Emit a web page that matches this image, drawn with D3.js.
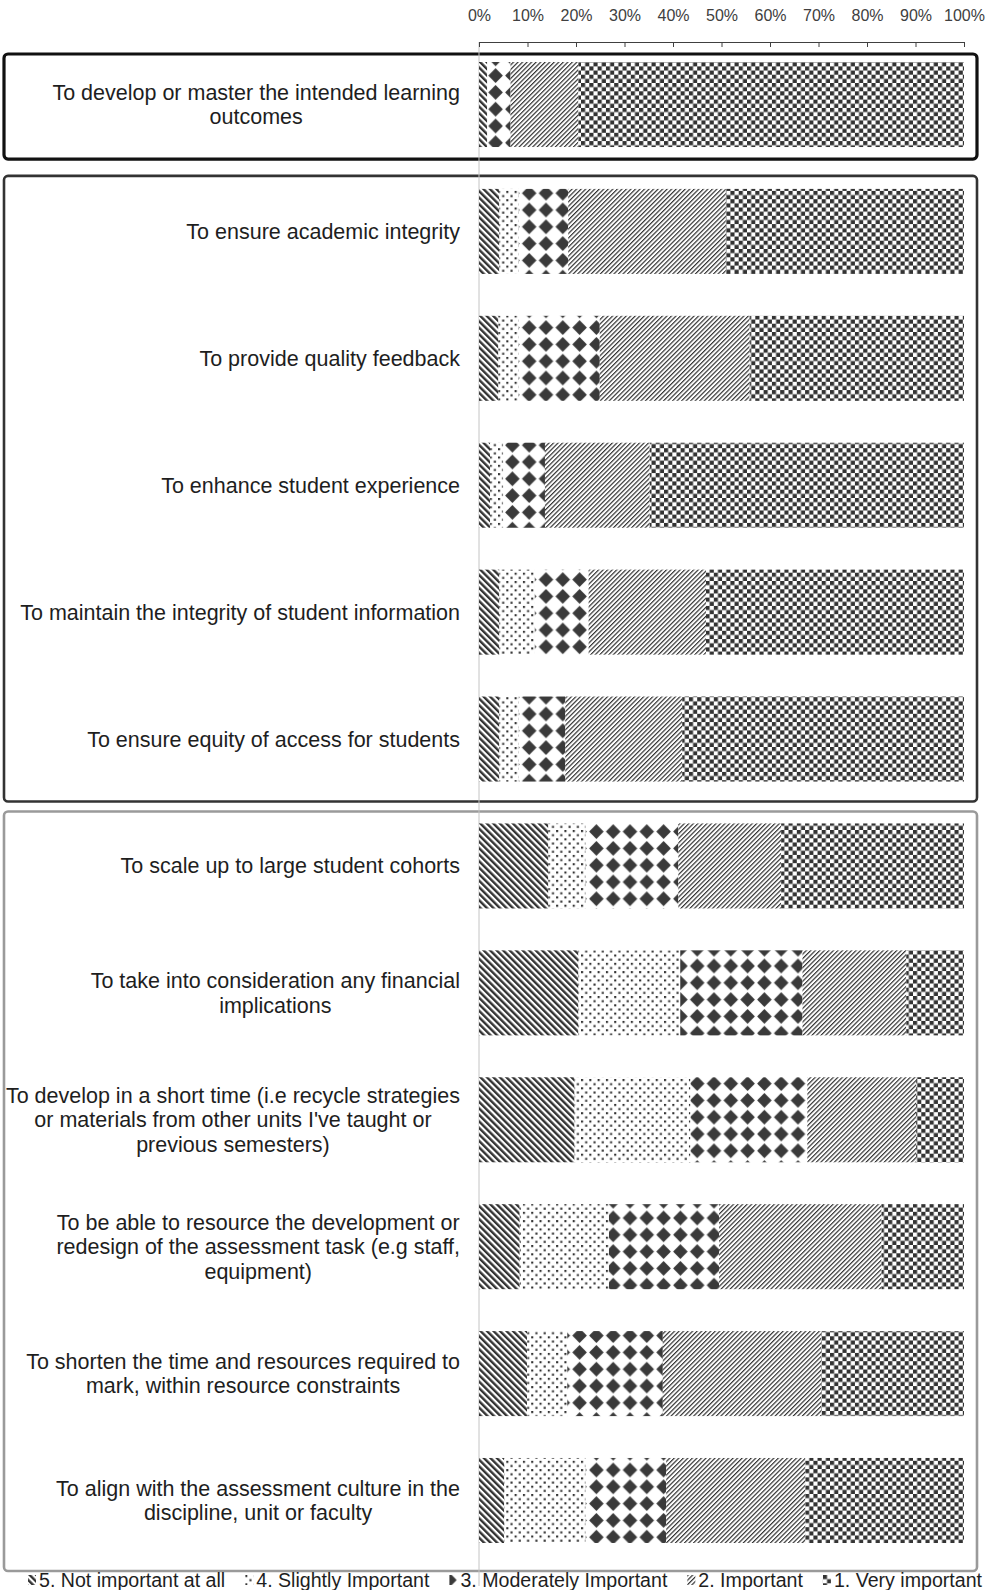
<!DOCTYPE html>
<html>
<head>
<meta charset="utf-8">
<script src="https://cdn.jsdelivr.net/npm/d3@7"></script>
<style>
  html, body { margin: 0; padding: 0; background: #fff; }
  svg { display: block; font-family: "Liberation Sans", Arial, Helvetica, sans-serif; }
</style>
</head>
<body>
<div id="chart"></div>
<script>
// Questions (each entry = the lines of its label)
const questions = [
  ["To develop or master the intended learning", "outcomes"],
  ["To ensure academic integrity"],
  ["To provide quality feedback"],
  ["To enhance student experience"],
  ["To maintain the integrity of student information"],
  ["To ensure equity of access for students"],
  ["To scale up to large student cohorts"],
  ["To take into consideration any financial", "implications"],
  ["To develop in a short time (i.e recycle strategies", "or materials from other units I've taught or", "previous semesters)"],
  ["To be able to resource the development or", "redesign of the assessment task (e.g staff,", "equipment)"],
  ["To shorten the time and resources required to", "mark, within resource constraints"],
  ["To align with the assessment culture in the", "discipline, unit or faculty"]
];

const levels = ["5. Not important at all", "4. Slightly Important", "3. Moderately Important", "2. Important", "1. Very important"];

// percent of respondents per level, one value per question
const notImportant = [1.7, 4.2, 4.0, 2.3, 4.2, 4.2, 14.3, 20.5, 19.7, 8.4, 9.9, 5.2];
const slightlyImportant = [0.0, 4.0, 4.2, 2.7, 7.3, 4.0, 7.7, 21.0, 23.9, 18.4, 8.3, 16.8];
const moderatelyImportant = [4.8, 10.2, 16.7, 8.6, 11.1, 9.6, 19.1, 25.2, 24.1, 22.7, 19.7, 16.6];
const important = [14.0, 32.5, 30.9, 21.6, 24.2, 24.1, 21.2, 21.4, 22.4, 33.5, 32.7, 28.7];
const veryImportant = [79.5, 49.1, 44.2, 64.8, 53.2, 58.1, 37.7, 11.9, 9.9, 17.0, 29.4, 32.7];

const tickValues = [0, 10, 20, 30, 40, 50, 60, 70, 80, 90, 100];

// grouping boxes drawn round the questions
const boxes = [
  { first: 0, last: 0, stroke: "#111", width: 3.2, padTop: 8, padBottom: 12 },
  { first: 1, last: 5, stroke: "#333", width: 2.6, padTop: 13, padBottom: 20 },
  { first: 6, last: 11, stroke: "#9a9a9a", width: 2.6, padTop: 12, padBottom: 28 }
];

const width = 991, height = 1590;
const ink = "#333";

const svg = d3.select("#chart").append("svg")
  .attr("width", width)
  .attr("height", height);

const x = d3.scaleLinear().domain([0, 100]).range([479, 964]);
const y = d3.scaleBand()
  .domain(d3.range(questions.length))
  .range([62, 1543])
  .paddingInner(0.33)
  .paddingOuter(0);

/* Patterns, one per level */
const defs = svg.append("defs");
const pattern = (id, w, h, transform) => {
  const p = defs.append("pattern")
    .attr("id", id)
    .attr("patternUnits", "userSpaceOnUse")
    .attr("width", w)
    .attr("height", h);
  if (transform) p.attr("patternTransform", transform);
  p.append("rect").attr("width", w).attr("height", h).attr("fill", "#fff");
  return p;
};

// 5: heavy downward diagonal
pattern("p5", 4.6, 4.6, "rotate(-45)")
  .append("rect").attr("width", 2.4).attr("height", 4.6).attr("fill", ink);

// 4: sparse dots
const p4 = pattern("p4", 8.3, 8.3);
p4.append("rect").attr("x", 0).attr("y", 0).attr("width", 2.1).attr("height", 2.1).attr("fill", ink);
p4.append("rect").attr("x", 4.15).attr("y", 4.15).attr("width", 2.1).attr("height", 2.1).attr("fill", ink);

// 3: solid diamonds
pattern("p3", 16.8, 16.8)
  .append("path")
  .attr("d", "M8.4,1.1 L15.7,8.4 L8.4,15.7 L1.1,8.4 Z")
  .attr("fill", "#3a3a3a");

// 2: light upward diagonal
pattern("p2", 3.2, 3.2, "rotate(45)")
  .append("rect").attr("width", 1.2).attr("height", 3.2).attr("fill", ink);

// 1: checkerboard
const p1 = pattern("p1", 8.3, 8.3);
p1.append("rect").attr("x", 0).attr("y", 0).attr("width", 4.15).attr("height", 4.15).attr("fill", ink);
p1.append("rect").attr("x", 4.15).attr("y", 4.15).attr("width", 4.15).attr("height", 4.15).attr("fill", ink);

const patternIds = ["p5", "p4", "p3", "p2", "p1"];

/* Boxes */
svg.append("g")
  .selectAll("rect")
  .data(boxes)
  .join("rect")
  .attr("x", 4)
  .attr("y", d => y(d.first) - d.padTop)
  .attr("width", 973)
  .attr("height", d => y(d.last) + y.bandwidth() + d.padBottom - (y(d.first) - d.padTop))
  .attr("rx", 4)
  .attr("fill", "none")
  .attr("stroke", d => d.stroke)
  .attr("stroke-width", d => d.width);

/* Vertical zero line */
svg.append("line")
  .attr("x1", x(0)).attr("x2", x(0))
  .attr("y1", 42).attr("y2", 1586)
  .attr("stroke", "#c4c4c4")
  .attr("stroke-width", 1);

/* Stacked bars */
const keys = ["s5", "s4", "s3", "s2", "s1"];
const rows = questions.map((q, i) => ({
  i: i,
  s5: notImportant[i],
  s4: slightlyImportant[i],
  s3: moderatelyImportant[i],
  s2: important[i],
  s1: veryImportant[i]
}));
const series = d3.stack().keys(keys)(rows);

svg.append("g")
  .selectAll("g")
  .data(series)
  .join("g")
  .attr("fill", (d, k) => `url(#${patternIds[k]})`)
  .selectAll("rect")
  .data(d => d)
  .join("rect")
  .attr("x", d => x(d[0]))
  .attr("width", d => Math.max(0, x(d[1]) - x(d[0])))
  .attr("y", d => y(d.data.i))
  .attr("height", y.bandwidth());

/* Top axis */
const axis = svg.append("g")
  .attr("transform", "translate(0,42)")
  .call(d3.axisTop(x)
    .tickValues(tickValues)
    .tickFormat(d => d + "%")
    .tickSizeInner(-5)
    .tickSizeOuter(0)
    .tickPadding(21));
axis.select(".domain").attr("stroke", "#404040");
axis.selectAll(".tick line").attr("stroke", "#404040");
axis.selectAll(".tick text")
  .attr("font-family", "'Liberation Sans', Arial, sans-serif")
  .attr("font-size", 16)
  .attr("fill", "#404040");

/* Question labels: block right-aligned, lines centred inside the block */
const labelRight = 460;
const lineH = 24.6;
const labels = svg.append("g")
  .attr("font-size", 21.5)
  .attr("fill", "#1e1e1e");

questions.forEach((lines, i) => {
  const cy = y(i) + y.bandwidth() / 2;
  const t = labels.append("text").attr("text-anchor", "middle");
  lines.forEach((s, j) => {
    t.append("tspan")
      .attr("y", cy + (j - (lines.length - 1) / 2) * lineH)
      .attr("dy", "0.35em")
      .text(s);
  });
  const w = d3.max(t.selectAll("tspan").nodes(), n => n.getComputedTextLength());
  t.selectAll("tspan").attr("x", labelRight - w / 2);
});

/* Legend: small swatch cut from each pattern, then the level name */
const legend = svg.append("g")
  .attr("font-size", 19.6)
  .attr("fill", "#1e1e1e");
const legendY = 1580;
const swatchShift = [0, 0, 8.4, 0, 0]; // show the right half of a diamond for level 3
let lx = 28;
levels.forEach((name, k) => {
  legend.append("g")
    .attr("transform", `translate(${lx - swatchShift[k]},${legendY - 5 - swatchShift[k] / 2.5})`)
    .append("rect")
    .attr("x", swatchShift[k])
    .attr("y", swatchShift[k] / 2.5)
    .attr("width", 8)
    .attr("height", 10)
    .attr("fill", `url(#${patternIds[k]})`);
  const t = legend.append("text")
    .attr("x", lx + 11)
    .attr("y", legendY)
    .attr("dy", "0.35em")
    .text(name);
  lx += 11 + t.node().getComputedTextLength() + 20;
});
</script>
</body>
</html>
